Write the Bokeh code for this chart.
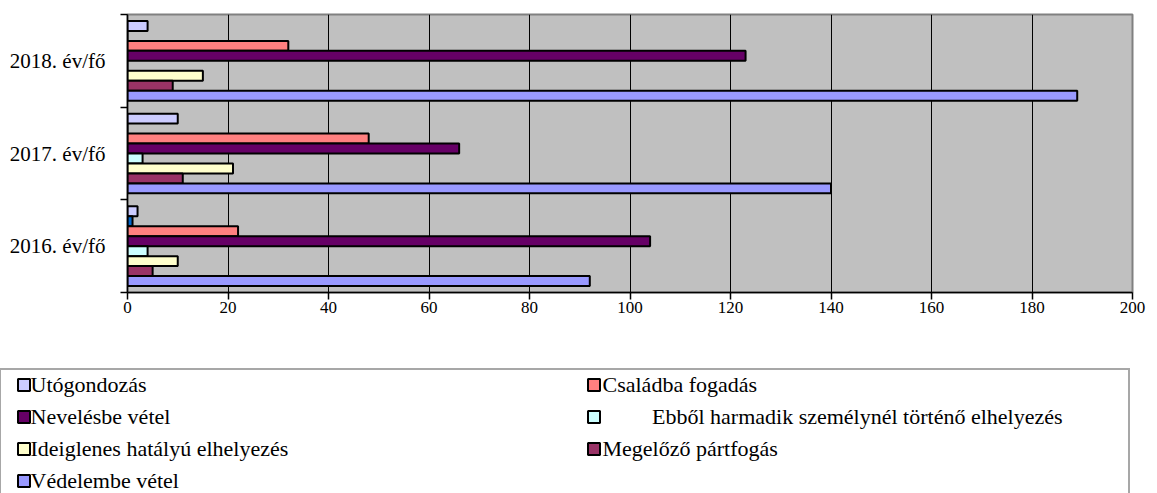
from bokeh.plotting import figure
from bokeh.layouts import column, row
from bokeh.models import (FactorRange, Range1d, LinearAxis, FixedTicker, Legend,
                          LegendItem, ColumnDataSource)
from bokeh.transform import dodge
from bokeh.embed import file_html
from bokeh.resources import INLINE

# ---------------- data ----------------
categories = ["2016. év/fő", "2017. év/fő", "2018. év/fő"]

utogondozas = [2, 10, 4]
jeloletlen = [1, 0, 0]            # unlabelled dark-blue series (not in legend)
csaladba_fogadas = [22, 48, 32]
nevelesbe_vetel = [104, 66, 123]
ebbol_harmadik = [4, 3, 0]
ideiglenes = [10, 21, 15]
megelozo = [5, 11, 9]
vedelembe = [92, 140, 189]

series_keys = ["utogondozas", "jeloletlen", "csaladba_fogadas", "nevelesbe_vetel",
               "ebbol_harmadik", "ideiglenes", "megelozo", "vedelembe"]
series_labels = ["Utógondozás", "", "Családba fogadás", "Nevelésbe vétel",
                 "\u00a0" * 9 + "Ebből harmadik személynél történő elhelyezés",
                 "Ideiglenes hatályú elhelyezés", "Megelőző pártfogás", "Védelembe vétel"]
series_colors = ["#CCCCFF", "#0066CC", "#FF8080", "#660066",
                 "#CCFFFF", "#FFFFCC", "#993366", "#9999FF"]

x_ticks = [0, 20, 40, 60, 80, 100, 120, 140, 160, 180, 200]

legend_col1 = ["utogondozas", "nevelesbe_vetel", "ideiglenes", "vedelembe"]
legend_col2 = ["csaladba_fogadas", "ebbol_harmadik", "megelozo"]

# ---------------- main figure ----------------
FONT = "Liberation Serif"
W = 1157
H_MAIN, H_LEG = 350, 143

y_range = FactorRange(factors=categories, range_padding=0)
x_range = Range1d(0, 200)

p = figure(width=W, height=H_MAIN, y_range=y_range, x_range=x_range,
           y_axis_type=None, output_backend="svg", toolbar_location=None,
           min_border_left=127, min_border_right=25,
           min_border_top=14, min_border_bottom=H_MAIN - 292)

p.background_fill_color = "#C0C0C0"
p.border_fill_color = "white"
p.outline_line_color = "#808080"
p.outline_line_width = 2

xa = p.xaxis[0]
xa.ticker = FixedTicker(ticks=x_ticks)
xa.major_tick_out = 7
xa.major_tick_in = 0
xa.minor_tick_line_color = None
xa.axis_line_color = "black"
xa.axis_line_width = 1.5
xa.major_tick_line_color = "black"
xa.major_tick_line_width = 1.5
xa.major_label_text_font = FONT
xa.major_label_text_font_size = "17px"
xa.major_label_text_color = "black"
xa.major_label_standoff = 2

p.xgrid.ticker = FixedTicker(ticks=x_ticks)
p.xgrid.grid_line_color = "black"
p.xgrid.grid_line_width = 1
p.ygrid.visible = False

centres = [i + 0.5 for i in range(len(categories))]
bounds = [i for i in range(len(categories) + 1)]
ya = LinearAxis(ticker=FixedTicker(ticks=centres, minor_ticks=bounds),
                major_label_overrides={c: lab for c, lab in zip(centres, categories)})
ya.major_tick_line_color = None
ya.major_tick_out = 0
ya.major_tick_in = 0
ya.minor_tick_line_color = "black"
ya.minor_tick_line_width = 1.5
ya.minor_tick_out = 7
ya.minor_tick_in = 0
ya.axis_line_color = "black"
ya.axis_line_width = 1.5
ya.major_label_text_font = FONT
ya.major_label_text_font_size = "21px"
ya.major_label_text_color = "black"
ya.major_label_standoff = 15
p.add_layout(ya, "left")

data = dict(cat=categories, utogondozas=utogondozas, jeloletlen=jeloletlen,
            csaladba_fogadas=csaladba_fogadas, nevelesbe_vetel=nevelesbe_vetel,
            ebbol_harmadik=ebbol_harmadik, ideiglenes=ideiglenes,
            megelozo=megelozo, vedelembe=vedelembe)
source = ColumnDataSource(data)

slot = 0.1075
n = len(series_keys)
for i, (key, color) in enumerate(zip(series_keys, series_colors)):
    k = (n - 1) / 2 - i
    p.hbar(y=dodge("cat", k * slot, range=y_range), left=0, right=key,
           height=slot, source=source, fill_color=color,
           line_color="black", line_width=2)

# ---------------- legend figure ----------------
pl = figure(width=W, height=H_LEG, y_range=y_range, x_range=x_range,
            x_axis_type=None, y_axis_type=None,
            output_backend="svg", toolbar_location=None,
            min_border_left=0, min_border_right=0,
            min_border_top=0, min_border_bottom=0)
pl.background_fill_color = "white"
pl.border_fill_color = "white"
pl.outline_line_color = None
pl.xgrid.visible = False
pl.ygrid.visible = False

leg_renderers = {}
for i, (key, color) in enumerate(zip(series_keys, series_colors)):
    k = (n - 1) / 2 - i
    r = pl.hbar(y=dodge("cat", k * slot, range=y_range), left=0, right=key,
                height=slot, source=source, fill_color=color,
                line_color="black", line_width=2)
    r.visible = False
    leg_renderers[key] = r

# transparent, hidden renderer that only carries the legend frame
frame_r = pl.hbar(y="cat", left=0, right="jeloletlen", height=slot, source=source,
                  fill_alpha=0, line_alpha=0)
frame_r.visible = False

labels = dict(zip(series_keys, series_labels))

# legend frame box (left and bottom edges fall outside the page)
leg0 = Legend(items=[LegendItem(label="\u00a0", renderers=[frame_r])],
              location=(-1.5, -79), padding=0, margin=0, spacing=0,
              glyph_width=1, glyph_height=1, label_standoff=0,
              label_width=1126, label_height=200,
              label_text_font_size="1px", label_text_alpha=0,
              border_line_color="#505050", border_line_width=2,
              background_fill_color="white", background_fill_alpha=1,
              click_policy="none")

common = dict(label_text_font=FONT, label_text_font_size="22px",
              label_text_color="black", glyph_width=15, glyph_height=15,
              label_height=27, spacing=5, padding=6, margin=0,
              click_policy="none", border_line_alpha=0,
              background_fill_alpha=0)

leg1 = Legend(items=[LegendItem(label=labels[k], renderers=[leg_renderers[k]]) for k in legend_col1],
              location=(9.5, -7), label_standoff=0, **common)
leg2 = Legend(items=[LegendItem(label=labels[k], renderers=[leg_renderers[k]]) for k in legend_col2],
              location=(579.5, 25), label_standoff=2, **common)
pl.add_layout(leg0, "center")
pl.add_layout(leg1, "center")
pl.add_layout(leg2, "center")

layout = column(p, row(pl), spacing=0)
open("out.html", "w").write(file_html(layout, INLINE))
